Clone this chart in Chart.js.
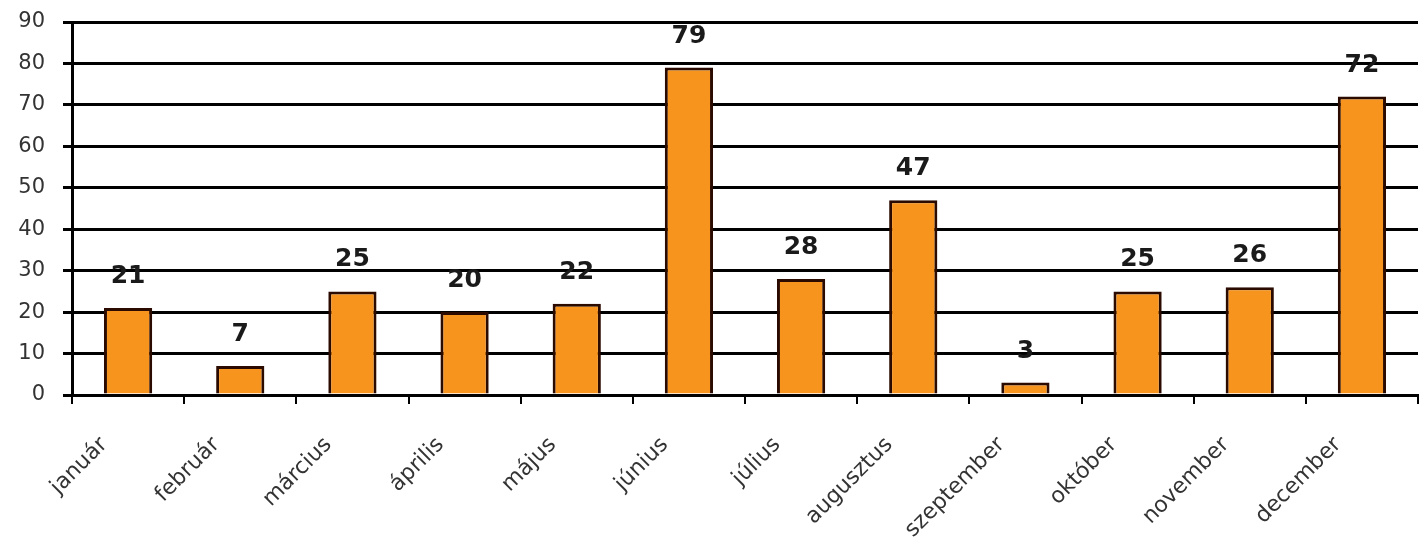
<!DOCTYPE html>
<html>
<head>
<meta charset="utf-8">
<script src="https://cdn.jsdelivr.net/npm/chart.js@4/dist/chart.umd.min.js"></script>
<style>
  html, body { margin: 0; padding: 0; background: #fff; }
  #wrap { width: 1426px; height: 540px; }
</style>
</head>
<body>
<div id="wrap"><canvas id="myChart" width="1426" height="540"></canvas></div>
<script>
'use strict';

// chart data
let months = ['január', 'február', 'március', 'április', 'május', 'június', 'július', 'augusztus', 'szeptember', 'október', 'november', 'december'];
let counts = [21, 7, 25, 20, 22, 79, 28, 47, 3, 25, 26, 72];
let yTicks = [0, 10, 20, 30, 40, 50, 60, 70, 80, 90];

// draws the number above each bar
let valueLabels = {
  id: 'valueLabels',
  afterDatasetsDraw(chart) {
    let ctx = chart.ctx;
    let meta = chart.getDatasetMeta(0);
    ctx.save();
    ctx.font = 'bold 25px "DejaVu Sans"';
    ctx.fillStyle = '#1a1a1a';
    ctx.textAlign = 'center';
    ctx.textBaseline = 'bottom';
    meta.data.forEach(function (bar, i) {
      ctx.fillText(String(counts[i]), bar.x, bar.y - 19);
    });
    ctx.restore();
  }
};

let ctx = document.getElementById('myChart').getContext('2d');
new Chart(ctx, {
  type: 'bar',
  data: {
    labels: months,
    datasets: [{
      data: counts,
      backgroundColor: '#f7941d',
      borderColor: '#2b0b00',
      borderWidth: 3,
      barPercentage: 0.43,
      categoryPercentage: 1
    }]
  },
  options: {
    responsive: false,
    animation: false,
    layout: { padding: { top: 22, right: 8, left: 0, bottom: 0 } },
    plugins: {
      legend: { display: false },
      tooltip: { enabled: false }
    },
    scales: {
      x: {
        offset: true,
        afterFit: function (scale) { scale.height = 145; },
        border: { color: '#000', width: 3 },
        grid: {
          display: true,
          offset: true,
          drawOnChartArea: false,
          drawTicks: true,
          tickLength: 9,
          color: '#000',
          lineWidth: 2
        },
        ticks: {
          maxRotation: 45,
          minRotation: 45,
          padding: 28,
          labelOffset: -24,
          color: '#333',
          font: { family: 'DejaVu Sans', size: 22 }
        }
      },
      y: {
        min: 0,
        max: 90,
        afterFit: function (scale) {
          scale.width = 72;
          scale.paddingTop = 0;
          scale.paddingBottom = 0;
        },
        afterBuildTicks: function (scale) {
          scale.ticks = yTicks.map(function (v) { return { value: v }; });
        },
        border: { color: '#000', width: 3 },
        grid: {
          color: '#000',
          lineWidth: 3,
          tickLength: 9
        },
        ticks: {
          padding: 18,
          color: '#333',
          font: { family: 'DejaVu Sans', size: 21 }
        }
      }
    }
  },
  plugins: [valueLabels]
});
</script>
</body>
</html>
